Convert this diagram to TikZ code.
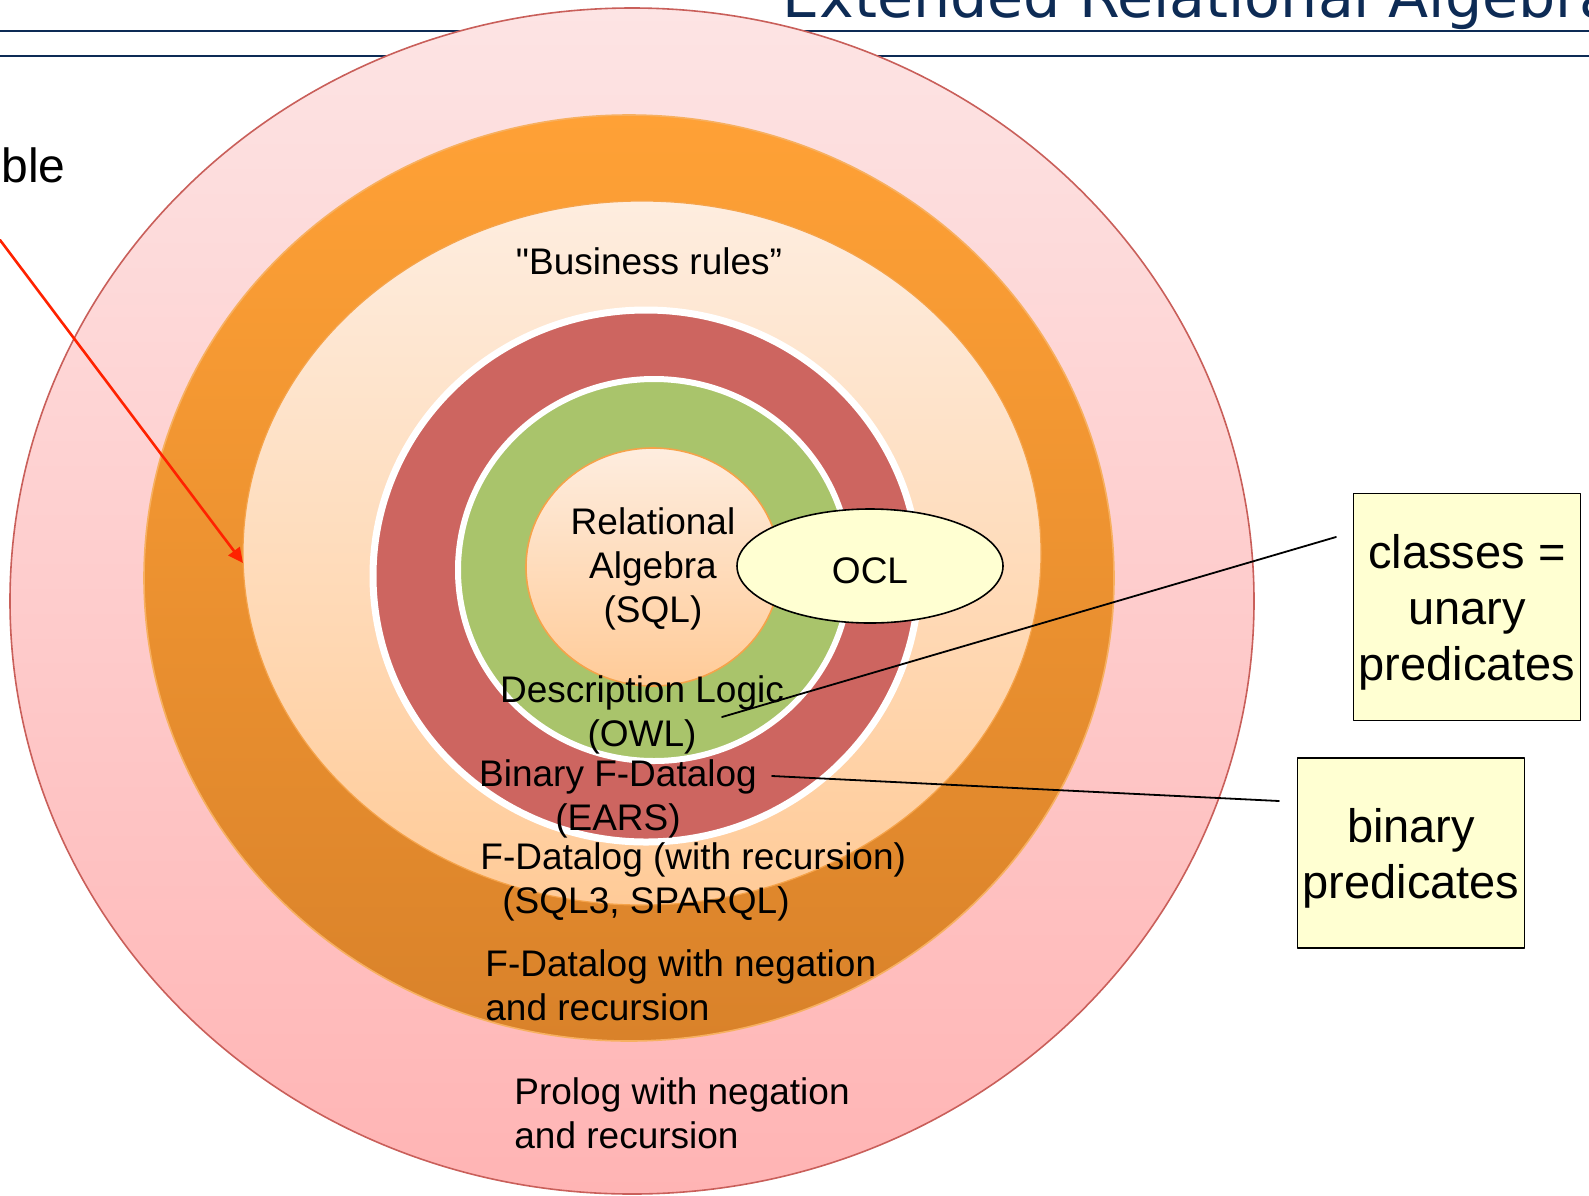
\documentclass[tikz,border=0pt]{standalone}
\usepackage{fontspec}
\setmainfont{Liberation Sans}
\newfontfamily\titlefont{DejaVu Sans}
\usetikzlibrary{shapes.geometric,arrows.meta}
\definecolor{navy}{HTML}{0D2B55}
\definecolor{pinktop}{HTML}{FDE4E4}
\definecolor{pinkbot}{HTML}{FFB4B4}
\definecolor{pinkedge}{HTML}{C95F5A}
\definecolor{orangetop}{HTML}{FFA136}
\definecolor{orangebot}{HTML}{D9822A}
\definecolor{orangeedge}{HTML}{F7B060}
\definecolor{peachtop}{HTML}{FEEDDF}
\definecolor{peachbot}{HTML}{FFCB98}
\definecolor{peachedge}{HTML}{F5A34A}
\definecolor{ringred}{HTML}{CD6560}
\definecolor{ringgreen}{HTML}{A9C46B}
\definecolor{notey}{HTML}{FFFFD2}
\definecolor{arrowred}{HTML}{FF2200}
\tikzset{
	lbl/.style={font=\fontsize{18.5}{22}\selectfont, align=center, inner sep=0pt},
	lblleft/.style={lbl, align=left, anchor=west},
	notebox/.style={draw=black, thick, fill=notey, align=center, inner sep=0pt,
		font=\fontsize{23.5}{28}\selectfont, minimum width=113.5pt, text depth=0pt}
}
\begin{document}
\begin{tikzpicture}[x=.5pt, y=-.5pt, line join=round, line cap=round, >={Stealth[inset=0pt,length=7.5pt,width=7pt]}]
	\useasboundingbox (0,0) rectangle (1589,1195);
	\draw[navy, line width=1pt] (0,31)--(1589,31)
	(0,56)--(1589,56);
	\node[anchor=base west, inner sep=0pt, font=\fontsize{24}{29}\selectfont] (ble) at (1,182) {ble};
	\shadedraw[top color=pinktop, bottom color=pinkbot, draw=pinkedge, line width=.8pt] 
	(632,601) ellipse [x radius=622, y radius=593];
	\shadedraw[top color=orangetop, bottom color=orangebot, draw=orangeedge, line width=.8pt] 
	(629,578) ellipse [x radius=485, y radius=463];
	\shadedraw[top color=peachtop, bottom color=peachbot, draw=peachedge, line width=.6pt] 
	(642,553) ellipse [x radius=399, y radius=352];
	\filldraw[fill=ringred, draw=white, line width=3.5pt] 
	(646,576) ellipse [x radius=273, y radius=266];
	\filldraw[fill=ringgreen, draw=white, line width=3pt] 
	(654,570) ellipse [x radius=196, y radius=191];
	\shadedraw[top color=peachtop, bottom color=peachbot, draw=peachedge, line width=.8pt] 
	(653,567) ellipse [x radius=127, y radius=119];
	\node[ellipse, draw=black, thick, fill=notey, minimum width=133pt, minimum height=57pt, lbl, text height=17pt, text depth=0pt] (ocl) at (870,566) {OCL};
	\node[lbl] (busrules) at (649,261) {\textquotedbl Business rules”};
	\node[lbl] (relalg) at (653,569) {Relational\\Algebra\\(SQL)};
	\node[lbl] (owl) at (642,715) {Description Logic\\(OWL)};
	\node[lbl] (ears) at (618,799) {Binary F-Datalog\\(EARS)};
	\node[lblleft] (fdatalog) at (480,882) {F-Datalog (with recursion)\\\hspace{11pt}(SQL3, SPARQL)};
	\node[lblleft] (negation) at (485,985) {F-Datalog with negation\\and recursion};
	\node[lblleft] (prolog) at (514,1113) {Prolog with negation\\and recursion};
	\node[notebox, minimum height=113.5pt] (classes) at (1467,607) {classes =\\unary\\predicates};
	\node[notebox, minimum height=95pt] (binary) at (1411,853) {binary\\predicates};
	\coordinate (owlTip) at (722,717);
	\coordinate (classesTip) at (1336,537);
	\coordinate (earsTip) at (772,776);
	\coordinate (binaryTip) at (1279,801);
	\draw[line width=.9pt] (owlTip)--(classesTip)
	(earsTip)--(binaryTip);
	\coordinate (arrowStart) at (0,240);
	\coordinate (arrowEnd) at (243,563);
	\draw[->, arrowred, line width=1.3pt] (arrowStart)--(arrowEnd);
	\node[anchor=base west, inner sep=0pt, text=navy, font=\titlefont\fontsize{29.3}{35}\selectfont] (title) at (782,17) {Extended Relational Algebra};
\end{tikzpicture}
\end{document}
